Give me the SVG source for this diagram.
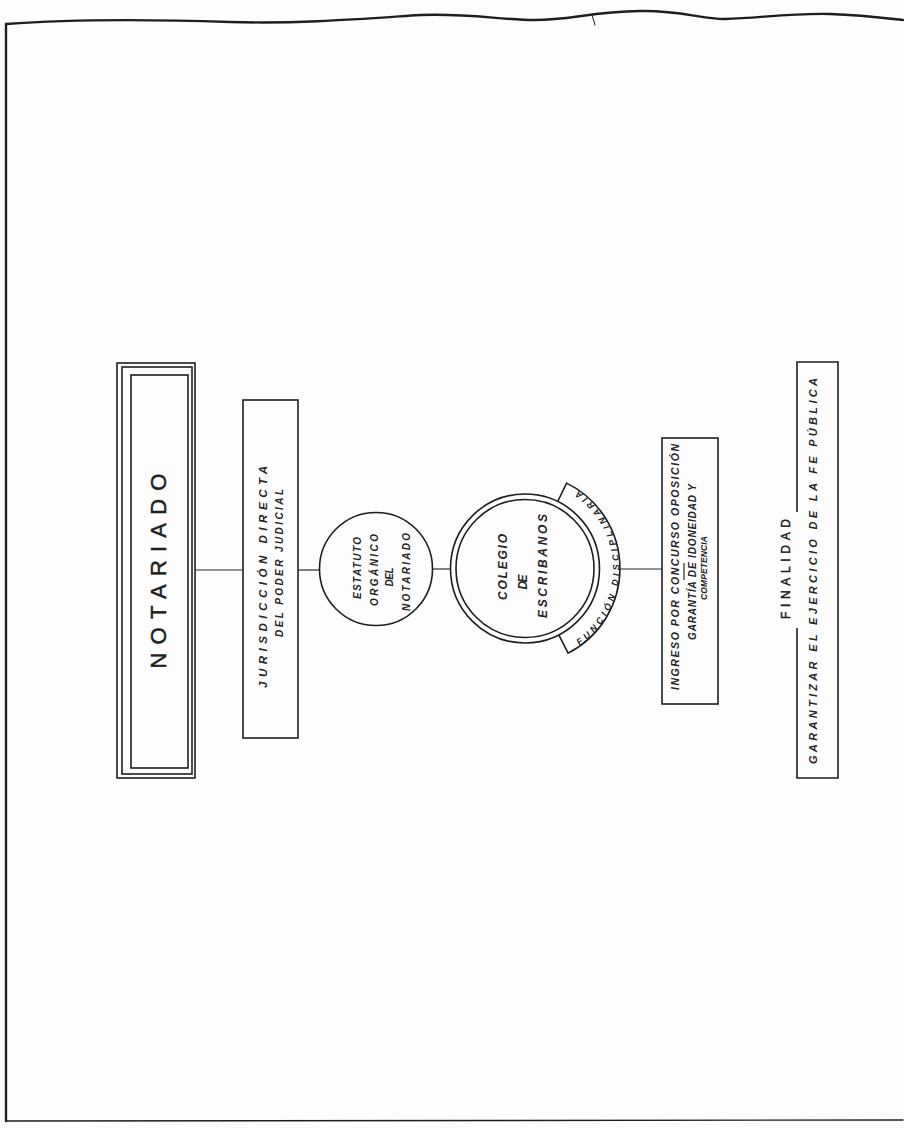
<svg xmlns="http://www.w3.org/2000/svg" width="904" height="1128" viewBox="0 0 904 1128">
  <style>
    .ink { fill: none; stroke: #1e1e1e; stroke-linecap: round; stroke-linejoin: round; }
    .box { fill: none; stroke: #1e1e1e; stroke-width: 1.6; }
    .link { stroke: #2a2a2a; stroke-width: 1.2; }
    .hand { font-family: "Liberation Sans", Arial, sans-serif; font-style: italic; font-weight: bold; fill: #242424; text-anchor: middle; dominant-baseline: central; }
    .title { font-family: "Liberation Sans", Arial, sans-serif; fill: #1e1e1e; stroke: #1e1e1e; stroke-width: 0.5; text-anchor: middle; dominant-baseline: central; }
  </style>
  <defs>
    <!-- baseline for the curved label of the college ring, running upward -->
    <path id="ringLabel" d="M 567.8 649.0 A 91 91 0 0 0 566.3 487.4"/>
  </defs>

  <rect x="0" y="0" width="904" height="1128" fill="#fdfdfd"/>

  <!-- sheet frame -->
  <g id="frame">
    <path class="ink" stroke-width="2.4" d="M 6 24 C 60 20, 140 19, 230 22 C 300 24, 360 19, 420 15 C 470 13, 500 20, 535 20 C 570 20, 590 12, 640 11 C 680 10, 700 19, 725 19 C 760 18, 790 13, 830 14 C 860 15, 885 18, 903 20"/>
    <path class="ink" stroke-width="1" d="M 592 15 L 595 25"/>
    <path class="ink" stroke-width="2.4" d="M 6 24 L 6 1121"/>
    <path class="ink" stroke-width="1.4" stroke="#6a6a6a" d="M 6 1121 L 903 1120"/>
  </g>

  <!-- connectors -->
  <g id="connectors">
    <line class="link" x1="195" y1="570" x2="243" y2="570"/>
    <line class="link" x1="298" y1="570" x2="319" y2="570"/>
    <line class="link" x1="433" y1="569" x2="450" y2="569"/>
    <line class="link" x1="619" y1="569" x2="662" y2="569"/>
  </g>

  <g id="notariado">
    <rect class="box" x="117" y="363" width="78" height="415" stroke-width="1.2"/>
    <rect class="box" x="122" y="367" width="70" height="407" stroke-width="1"/>
    <rect class="box" x="131" y="375" width="57" height="393" stroke-width="2.6"/>
    <text class="title" transform="translate(158.5 571) rotate(-90)" font-size="22" textLength="195" lengthAdjust="spacing">NOTARIADO</text>
  </g>

  <g id="jurisdiccion">
    <rect class="box" x="243" y="400" width="55" height="338"/>
    <text class="hand" transform="translate(263 577) rotate(-90)" font-size="11.5" textLength="222" lengthAdjust="spacing">JURISDICCIÓN DIRECTA</text>
    <text class="hand" transform="translate(279 563) rotate(-90)" font-size="10" textLength="148" lengthAdjust="spacing">DEL PODER JUDICIAL</text>
  </g>

  <g id="estatuto">
    <circle class="box" cx="376" cy="569" r="56.5"/>
    <text class="hand" transform="translate(357 568) rotate(-90)" font-size="10" textLength="62" lengthAdjust="spacing">ESTATUTO</text>
    <text class="hand" transform="translate(374 570) rotate(-90)" font-size="10" textLength="72" lengthAdjust="spacing">ORGÁNICO</text>
    <text class="hand" transform="translate(389 577) rotate(-90)" font-size="10" textLength="19" lengthAdjust="spacing">DEL</text>
    <text class="hand" transform="translate(406 572) rotate(-90)" font-size="10" textLength="78" lengthAdjust="spacing">NOTARIADO</text>
  </g>

  <g id="colegio">
    <circle class="box" cx="525" cy="568.5" r="74.5" stroke-width="1.4"/>
    <circle class="box" cx="525" cy="568.5" r="69" stroke-width="1.8"/>
    <text class="hand" transform="translate(503 567) rotate(-90)" font-size="12" textLength="66" lengthAdjust="spacing">COLEGIO</text>
    <text class="hand" transform="translate(523 582) rotate(-90)" font-size="12" textLength="15" lengthAdjust="spacing">DE</text>
    <text class="hand" transform="translate(543 566) rotate(-90)" font-size="12" textLength="104" lengthAdjust="spacing">ESCRIBANOS</text>
  </g>

  <g id="funcion-disciplinaria">
    <path class="box" stroke-width="1.4" d="M 557.7 501.5 L 566.6 483.1 A 95 95 0 0 1 568.1 653.1 L 558.8 634.9"/>
    <text class="hand" font-style="normal" font-size="9" dominant-baseline="auto">
      <textPath href="#ringLabel" startOffset="50%" textLength="176" lengthAdjust="spacing">FUNCIÓN DISCIPLINARIA</textPath>
    </text>
  </g>

  <g id="ingreso">
    <rect class="box" x="662" y="438" width="56" height="266"/>
    <text class="hand" transform="translate(675 567) rotate(-90)" font-size="10.5" textLength="246" lengthAdjust="spacing">INGRESO POR CONCURSO OPOSICIÓN</text>
    <line class="link" x1="684" y1="563" x2="684" y2="580" stroke-width="1"/>
    <text class="hand" transform="translate(692 562) rotate(-90)" font-size="10" textLength="156" lengthAdjust="spacing">GARANTÍA DE IDONEIDAD Y</text>
    <text class="hand" transform="translate(704 568) rotate(-90)" font-size="8.5" textLength="64" lengthAdjust="spacing">COMPETENCIA</text>
  </g>

  <g id="finalidad">
    <path class="box" d="M 797 512 L 797 362 L 838 362 L 838 778 L 797 778 L 797 628"/>
    <text class="title" transform="translate(786 569) rotate(-90)" font-size="12" stroke-width="0.3" textLength="100" lengthAdjust="spacing">FINALIDAD</text>
    <text class="hand" transform="translate(813 571) rotate(-90)" font-size="11" textLength="386" lengthAdjust="spacing">GARANTIZAR EL EJERCICIO DE LA FE PÚBLICA</text>
  </g>
</svg>
